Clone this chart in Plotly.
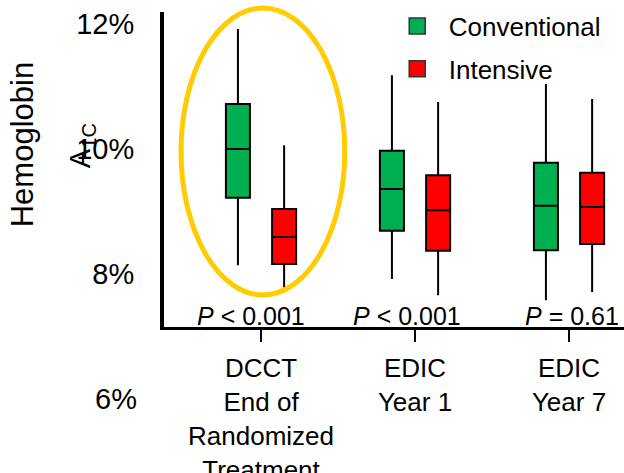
import plotly.graph_objects as go

# ---- data ----
categories = ["DCCT<br>End of<br>Randomized<br>Treatment", "EDIC<br>Year 1", "EDIC<br>Year 7"]

conv_upper = [11.92, 11.18, 11.04]
conv_q3 = [10.72, 9.97, 9.78]
conv_median = [10.00, 9.36, 9.09]
conv_q1 = [9.22, 8.69, 8.38]
conv_lower = [8.14, 7.92, 7.58]

int_upper = [10.06, 10.75, 10.80]
int_q3 = [9.04, 9.58, 9.62]
int_median = [8.59, 9.02, 9.07]
int_q1 = [8.16, 8.37, 8.48]
int_lower = [7.78, 7.66, 7.71]

p_labels = ["<i>P</i> < 0.001", "<i>P</i> < 0.001", "<i>P</i> = 0.61"]
y_ticks = [8, 10, 12]
y_tick_text = ["8%", "10%", "12%"]

FONT = "Liberation Sans, Arial, sans-serif"
GREEN = "#00B050"
RED = "#FF0000"

fig = go.Figure()
fig.add_trace(go.Box(
    x=categories, q1=conv_q1, median=conv_median, q3=conv_q3,
    lowerfence=conv_lower, upperfence=conv_upper,
    name="Conventional", fillcolor=GREEN, line=dict(color="black", width=2),
    whiskerwidth=0, showlegend=False, hoverinfo="skip",
))
fig.add_trace(go.Box(
    x=categories, q1=int_q1, median=int_median, q3=int_q3,
    lowerfence=int_lower, upperfence=int_upper,
    name="Intensive", fillcolor=RED, line=dict(color="black", width=2),
    whiskerwidth=0, showlegend=False, hoverinfo="skip",
))
# legend entries
for nm, col, grp in [("Conventional", GREEN, "a"), ("Intensive", RED, "b")]:
    fig.add_trace(go.Scatter(
        x=[None], y=[None], mode="markers", name=nm, legendgroup=grp,
        marker=dict(symbol="square", size=22, color=col, line=dict(color="#333333", width=1.5)),
    ))

fig.update_layout(
    width=624, height=473,
    margin=dict(l=164, r=0, t=12, b=146, autoexpand=False),
    paper_bgcolor="white", plot_bgcolor="white",
    boxmode="group", boxgap=0.4, boxgroupgap=0.48,
    font=dict(family=FONT, size=26, color="black"),
    legend=dict(x=0.482, y=1.03, xanchor="left", yanchor="top",
                bgcolor="rgba(0,0,0,0)", tracegroupgap=6, itemwidth=53,
                font=dict(size=26)),
    xaxis=dict(
        range=[-0.63, 2.357], showline=True, linecolor="black", linewidth=3,
        ticks="outside", ticklen=12, tickwidth=2, tickcolor="black",
        showgrid=False, zeroline=False, tickfont=dict(size=26),
        ticklabelstandoff=4, automargin=False,
    ),
    yaxis=dict(
        range=[7.152, 12.19], showline=True, linecolor="black", linewidth=4,
        tickvals=y_ticks, ticktext=y_tick_text, ticks="",
        showgrid=False, zeroline=False, tickfont=dict(size=29),
        ticklabelstandoff=20, automargin=False,
    ),
)

# 6% label (below the drawn axis)
fig.add_annotation(text="6%", xref="paper", yref="paper", x=-0.055, y=-0.2286,
                   xanchor="right", yanchor="middle", showarrow=False, font=dict(size=29))

# y axis title pieces
fig.add_annotation(text="Hemoglobin", xref="paper", yref="paper", x=-0.351, y=0.577,
                   textangle=-90, showarrow=False, font=dict(size=31))
fig.add_annotation(text="A<sub>1C</sub>", xref="paper", yref="paper", x=-0.222, y=0.577,
                   textangle=-90, showarrow=False, font=dict(size=29))

# P values
for i, t in enumerate(p_labels):
    fig.add_annotation(text=t, xref="x", yref="paper", x=i, y=0.035,
                       xshift=[-10, -8, 3][i], yanchor="middle", showarrow=False,
                       font=dict(size=25))

# highlight ellipse
fig.add_shape(type="circle", xref="paper", yref="paper",
              x0=0.037, x1=0.393, y0=0.1016, y1=1.0127,
              line=dict(color="#FFCC00", width=5), layer="above")

fig.write_html("out.html", config={"displayModeBar": False},
               post_script="document.body.style.margin='0';document.body.style.padding='0';")
